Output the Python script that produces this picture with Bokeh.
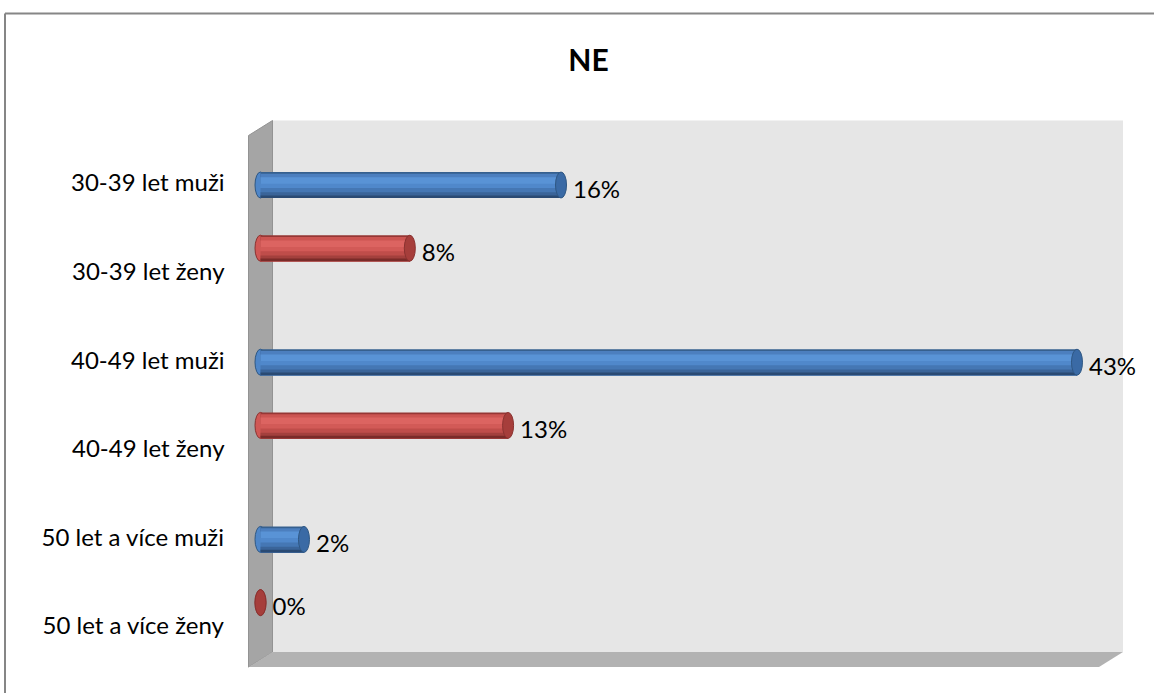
from bokeh.plotting import figure
from bokeh.models import Range1d
from bokeh.core.properties import value
from bokeh.embed import file_html
from bokeh.resources import INLINE

# ---------------- data ----------------
title_text = "NE"
categories = ["30-39 let muži", "30-39 let ženy", "40-49 let muži",
              "40-49 let ženy", "50 let a více muži", "50 let a více ženy"]
# two series; each category only carries a value in one of them
muzi = [15.9, None, 43.2, None, 2.3, None]
zeny = [None, 7.9, None, 13.1, None, 0.0]
axis_max = 45.0

# ---------------- geometry / style ----------------
W, H = 1154, 693
SX = 18.9        # px per percent
SY = 88.6        # px per category band
X0_PX = 260      # px of value 0 (bar plane)
Y0_PX = 127.5    # px of top of first category band (bar plane)
DEPTH_X, DEPTH_Y = 12.0, 7.5   # px half-depth of the 3D box
BAR_PX = 26.0
SLOT = 12.7 / SY                # cluster offset of each series
FONT = "Lato"

x_start = -X0_PX / SX
x_end = (W - X0_PX) / SX
y_top = -Y0_PX / SY
y_bot = (H - Y0_PX) / SY

p = figure(width=W, height=H, output_backend="svg", toolbar_location=None,
           x_range=Range1d(x_start, x_end), y_range=Range1d(y_bot, y_top),
           x_axis_location=None, y_axis_location=None, min_border=0)
p.outline_line_color = None
p.grid.visible = False
p.background_fill_color = "white"
p.border_fill_color = "white"

dxd = DEPTH_X / SX
dyd = DEPTH_Y / SY
n = len(categories)

# back wall
p.patch([0 + dxd, axis_max + dxd, axis_max + dxd, 0 + dxd],
        [0 - dyd, 0 - dyd, n - dyd, n - dyd],
        fill_color="#e6e6e6", line_color=None)
# left wall
p.patch([0 - dxd, 0 + dxd, 0 + dxd, 0 - dxd],
        [0 + dyd, 0 - dyd, n - dyd, n + dyd],
        fill_color="#a5a5a5", line_color="#939393", line_width=1)
# floor
p.patch([0 - dxd, 0 + dxd, axis_max + dxd, axis_max - dxd],
        [n + dyd, n - dyd, n - dyd, n + dyd],
        fill_color="#b2b2b2", line_color=None)

blue_strips = [(0.00, "#36608f"), (0.07, "#4c7fbf"),
               (0.20, "#5993d6"), (0.45, "#5088cb"),
               (0.62, "#4577b4"), (0.78, "#3a6499"),
               (0.90, "#2a4a73")]
red_strips = [(0.00, "#963735"), (0.07, "#cc5552"),
              (0.20, "#dc6461"), (0.45, "#d25a57"),
              (0.62, "#bf4d4a"), (0.78, "#a3403d"),
              (0.90, "#7a2b29")]

h = BAR_PX / SY


def draw_series(vals, offset, strips, mid, cap, cap_line):
    ys = [i + 0.5 + offset for i, v in enumerate(vals) if v is not None]
    xs = [v for v in vals if v is not None]
    # rounded left end
    p.ellipse(x=[0] * len(xs), y=ys, width=11, height=BAR_PX,
              width_units="screen", height_units="screen",
              fill_color=mid, line_color=cap_line, line_width=1)
    # cylinder shading: each band covers from its top to the bar bottom
    for f0, col in strips:
        yc = [y - h / 2 + h * (f0 + 1.0) / 2 for y in ys]
        p.hbar(y=yc, left=0, right=xs, height=h * (1.0 - f0),
               fill_color=col, line_color=None)
    # right cap
    p.ellipse(x=xs, y=ys, width=11, height=BAR_PX,
              width_units="screen", height_units="screen",
              fill_color=cap, line_color=cap_line, line_width=1)
    p.text(x=xs, y=ys, text=[f"{round(v)}%" for v in xs],
           x_offset=12, y_offset=3, text_align="left", text_baseline="middle",
           text_font=value(FONT), text_font_size="24px", text_color="#000000")


draw_series(muzi, SLOT, blue_strips, "#4f86c8", "#3a6aa5", "#2f5783")
draw_series(zeny, -SLOT, red_strips, "#d05855", "#a63e3b", "#8a3230")

# category labels (front plane)
p.text(x=[0 - dxd] * n, y=[i + 0.5 + dyd for i in range(n)], text=categories,
       x_offset=-24, y_offset=2, text_align="right", text_baseline="middle",
       text_font=value(FONT), text_font_size="24px", text_color="#000000")

# title
p.text(x=[x_start + 588 / SX], y=[y_top + 58 / SY], text=[title_text],
       text_align="center", text_baseline="middle",
       text_font=value(FONT), text_font_style="bold", text_font_size="30px",
       text_color="#000000")

# outer chart border (left and top edges)
bx = x_start + 4.5 / SX
by = y_top + 13 / SY
p.segment(x0=[bx, bx], y0=[by, by], x1=[x_end + 1, bx], y1=[by, y_bot + 1],
          line_color="#868686", line_width=2)

open("out.html", "w").write(file_html(p, INLINE))
